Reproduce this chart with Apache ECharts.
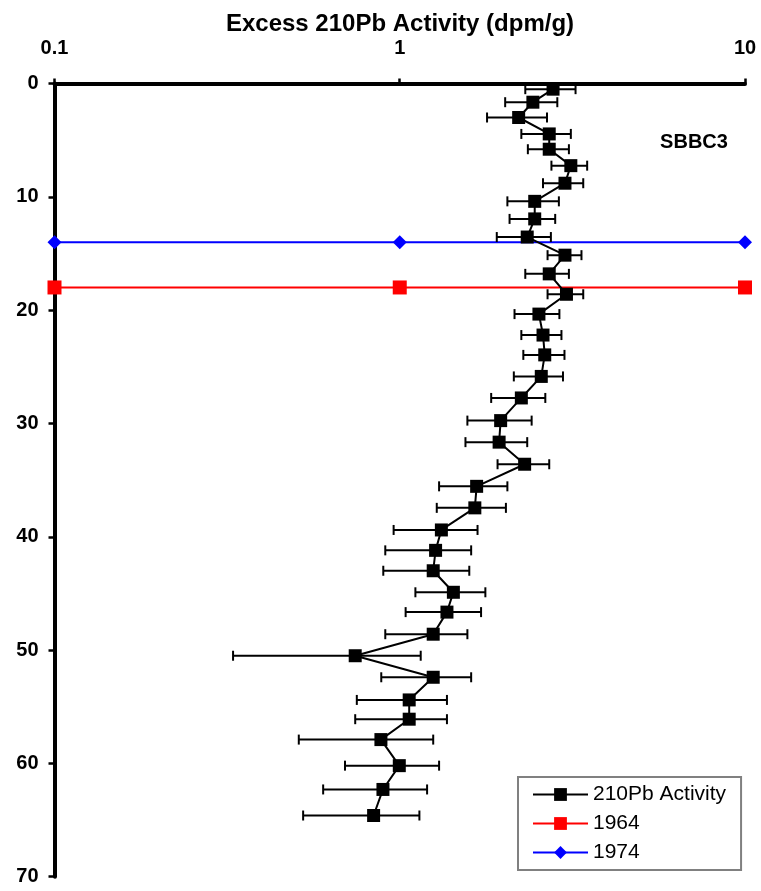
<!DOCTYPE html>
<html><head><meta charset="utf-8">
<script src="https://cdn.jsdelivr.net/npm/echarts@6/dist/echarts.min.js"></script>
<style>html,body{margin:0;padding:0;background:#fff}#c{width:761px;height:891px}</style>
</head><body><div id="c"></div>
<script>
// Depth (cm) of each sample
const depths = [0.5,1.65,3.0,4.45,5.8,7.25,8.8,10.4,11.95,13.55,15.15,16.8,18.6,20.35,22.2,23.95,25.85,27.75,29.75,31.65,33.6,35.55,37.45,39.4,41.2,43.0,44.9,46.65,48.6,50.5,52.4,54.4,56.1,57.9,60.2,62.3,64.6];
// Excess 210Pb activity (dpm/g)
const activity = [2.78,2.43,2.21,2.71,2.71,3.13,3.01,2.46,2.46,2.34,3.01,2.71,3.04,2.53,2.60,2.63,2.57,2.25,1.96,1.94,2.30,1.67,1.65,1.32,1.27,1.25,1.43,1.37,1.25,0.743,1.25,1.065,1.065,0.882,0.997,0.894,0.84];
// Error bar extents
const errLow = [2.31,2.02,1.79,2.25,2.35,2.75,2.60,2.05,2.08,1.91,2.68,2.31,2.68,2.15,2.25,2.28,2.14,1.84,1.57,1.55,1.92,1.30,1.28,0.96,0.908,0.896,1.11,1.04,0.908,0.329,0.884,0.751,0.743,0.510,0.694,0.60,0.525];
const errHigh = [3.23,2.86,2.67,3.13,3.09,3.49,3.40,2.89,2.82,2.74,3.36,3.09,3.40,2.90,2.94,3.00,2.97,2.64,2.41,2.34,2.71,2.05,2.03,1.68,1.61,1.59,1.77,1.72,1.57,1.15,1.61,1.37,1.37,1.25,1.30,1.20,1.14];
// Reference horizons
const refX = [0.1, 1, 10];
const depth1964 = 18;
const depth1974 = 14;
const xTickLabels = ['0.1', '1', '10'];
const yTickLabels = ['0','10','20','30','40','50','60','70'];

const FONT = 'Liberation Sans, Arial, sans-serif';
const chart = echarts.init(document.getElementById('c'));

const mainData = activity.map((v, i) => [v, depths[i]]);
const errData = depths.map((d, i) => [errLow[i], errHigh[i], d]);

chart.setOption({
  animation: false,
  backgroundColor: '#fff',
  grid: {left: 54.5, right: 16, top: 83.5, bottom: 14.3, containLabel: false},
  graphic: [
    {type: 'text', x: 400, y: 24, style: {text: 'Excess 210Pb Activity (dpm/g)', fontFamily: FONT, fontSize: 24, fontWeight: 'bold', fill: '#000', textAlign: 'center', textVerticalAlign: 'middle'}},
    {type: 'text', x: 694, y: 142, style: {text: 'SBBC3', fontFamily: FONT, fontSize: 20, fontWeight: 'bold', fill: '#000', textAlign: 'center', textVerticalAlign: 'middle'}}
  ],
  xAxis: {
    type: 'log', logBase: 10, min: 0.1, max: 10, position: 'top',
    axisLine: {show: true, lineStyle: {color: '#000', width: 4}},
    axisTick: {show: true, inside: false, length: 5, lineStyle: {color: '#000', width: 2.5}},
    minorTick: {show: false},
    splitLine: {show: false},
    axisLabel: {margin: 25, fontFamily: FONT, fontSize: 20, fontWeight: 'bold', color: '#000',
      formatter: function (v) { const i = refX.indexOf(v); return i >= 0 ? xTickLabels[i] : ''; }}
  },
  yAxis: {
    type: 'value', min: 0, max: 70, interval: 10, inverse: true,
    axisLine: {show: true, lineStyle: {color: '#000', width: 4}},
    axisTick: {show: true, inside: false, length: 6, lineStyle: {color: '#000', width: 2.5}},
    splitLine: {show: false},
    axisLabel: {margin: 16, fontFamily: FONT, fontSize: 20, fontWeight: 'bold', color: '#000',
      formatter: function (v) { return yTickLabels[Math.round(v / 10)]; }}
  },
  legend: {
    orient: 'vertical', left: 518, top: 777,
    padding: [7, 15, 7, 14], itemGap: 8, itemWidth: 55, itemHeight: 16,
    backgroundColor: '#fff', borderColor: '#808080', borderWidth: 2,
    textStyle: {fontFamily: FONT, fontSize: 21, color: '#000', lineHeight: 20},
    data: ['210Pb Activity', '1964', '1974']
  },
  series: [
    {
      name: '1974', type: 'line', z: 2,
      data: refX.map(x => [x, depth1974]),
      symbol: 'diamond', symbolSize: 14,
      lineStyle: {color: '#0000ff', width: 2}, itemStyle: {color: '#0000ff'}
    },
    {
      name: '1964', type: 'line', z: 2,
      data: refX.map(x => [x, depth1964]),
      symbol: 'rect', symbolSize: 14,
      lineStyle: {color: '#ff0000', width: 2}, itemStyle: {color: '#ff0000'}
    },
    {
      name: 'errbars', type: 'custom', z: 3,
      encode: {x: [0, 1], y: 2},
      data: errData,
      renderItem: function (params, api) {
        const d = api.value(2);
        const p1 = api.coord([api.value(0), d]);
        const p2 = api.coord([api.value(1), d]);
        const h = 5;
        const style = {stroke: '#000', lineWidth: 2};
        return {type: 'group', children: [
          {type: 'line', shape: {x1: p1[0], y1: p1[1], x2: p2[0], y2: p2[1]}, style: style},
          {type: 'line', shape: {x1: p1[0], y1: p1[1] - h, x2: p1[0], y2: p1[1] + h}, style: style},
          {type: 'line', shape: {x1: p2[0], y1: p2[1] - h, x2: p2[0], y2: p2[1] + h}, style: style}
        ]};
      }
    },
    {
      name: '210Pb Activity', type: 'line', z: 4,
      data: mainData,
      symbol: 'rect', symbolSize: 13,
      lineStyle: {color: '#000', width: 2}, itemStyle: {color: '#000'}
    }
  ]
});
</script>
</body></html>
